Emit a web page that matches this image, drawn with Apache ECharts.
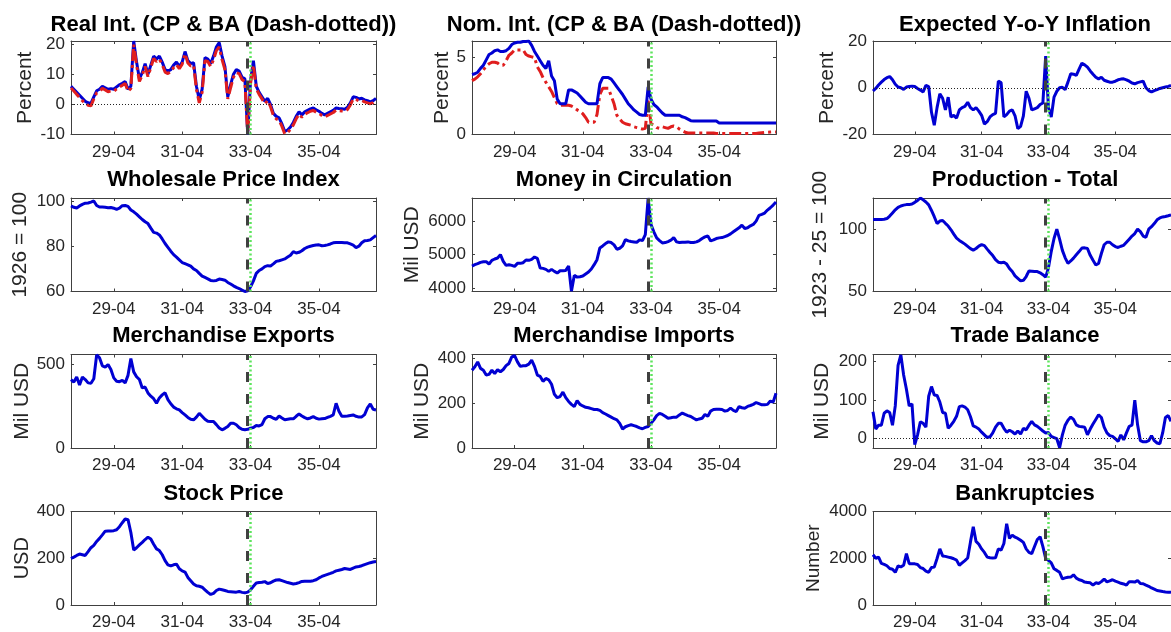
<!DOCTYPE html>
<html>
<head>
<meta charset="utf-8">
<script src="https://cdn.jsdelivr.net/npm/echarts@6/dist/echarts.min.js"></script>
<style>
  html, body { margin: 0; padding: 0; background: #fff; }
  #chart { width: 1171px; height: 632px; }
</style>
</head>
<body>
<div id="chart"></div>
<script>
// monthly categories 28-01 .. 36-12
const months = []
for (let y = 28; y <= 36; y++) {
  for (let m = 1; m <= 12; m++) months.push(y + "-" + String(m).padStart(2, "0"))
}
const xTickLabels = ["29-04", "31-04", "33-04", "35-04"]
const dashedMonth = "33-03"
const dottedMonth = "33-04"

// one row per year (1928 .. 1936)
const realCP = [
  6.0, 5.0, 4.0, 3.0, 2.0, 1.0, 0.5, 0.3, 2.5, 4.5, 5.0, 6.0,
  5.5, 5.0, 5.2, 5.0, 5.8, 6.5, 7.0, 7.6, 5.0, 6.0, 21.0, 14.0,
  8.5, 10.5, 13.5, 10.0, 13.0, 16.0, 15.0, 16.0, 14.0, 11.5, 11.0, 11.5,
  13.0, 14.0, 12.5, 14.0, 17.5, 14.5, 13.5, 13.8, 6.0, 1.5, 5.0, 15.5,
  15.0, 13.5, 16.0, 19.0, 20.5, 16.0, 12.5, 2.5, 6.5, 10.0, 11.5, 11.0,
  9.0, 8.5, -10.0, 8.0, 14.5, 6.0, 4.0, 2.5, 1.0, 2.0, 0.0, -3.0,
  -4.0, -4.5, -6.5, -9.0, -8.5, -7.5, -6.0, -4.0, -2.5, -3.5, -2.5, -2.0,
  -1.5, -1.2, -1.8, -2.3, -3.0, -3.5, -3.0, -2.5, -2.0, -1.2, -1.4, -1.5,
  -1.6, -1.0, 0.5, 2.5, 2.3, 1.8, 2.0, 1.5, 1.2, 0.8, 1.2, 2.0
]
const realBA = [
  5.4, 4.4, 3.3, 2.3, 1.2, 0.3, -0.3, -0.5, 1.8, 3.8, 4.3, 5.3,
  4.8, 4.2, 4.4, 4.3, 5.1, 5.8, 6.3, 6.9, 4.3, 5.3, 19.8, 13.0,
  7.6, 9.6, 12.6, 9.2, 12.2, 15.2, 14.2, 15.0, 13.2, 10.7, 10.2, 10.8,
  12.2, 13.2, 11.8, 13.3, 16.8, 13.7, 12.7, 13.0, 5.0, 0.5, 4.0, 14.5,
  14.2, 12.5, 14.8, 17.8, 19.0, 14.8, 11.5, 1.8, 5.5, 9.0, 10.5, 10.2,
  8.2, 7.5, -10.0, 7.0, 13.0, 5.2, 3.3, 1.8, 0.2, 1.3, -0.8, -3.7,
  -4.8, -5.3, -7.3, -9.8, -9.3, -8.3, -6.8, -4.8, -3.3, -4.3, -3.3, -2.8,
  -2.3, -2.0, -2.6, -3.0, -3.7, -4.2, -3.7, -3.2, -2.7, -1.9, -2.1, -2.2,
  -2.3, -1.7, -0.2, 1.8, 1.6, 1.1, 1.3, 0.8, 0.5, 0.2, 0.6, 1.5
]
const nomCP = [
  3.9, 3.95, 4.05, 4.3, 4.5, 4.85, 5.2, 5.3, 5.45, 5.5, 5.4, 5.4,
  5.45, 5.6, 5.85, 5.95, 6.0, 6.0, 6.05, 6.05, 6.08, 5.8, 5.4, 5.1,
  4.8, 4.5, 4.3, 4.8, 3.8, 3.5, 2.3, 2.0, 2.0, 2.0, 2.9, 2.9,
  2.8, 2.7, 2.5, 2.3, 2.1, 2.0, 2.0, 2.0, 2.0, 3.3, 3.7, 3.7,
  3.7, 3.6, 3.35, 3.1, 2.85, 2.6, 2.3, 2.0, 1.8, 1.6, 1.45, 1.3,
  1.25, 1.25, 3.1, 2.3, 1.95, 1.8, 1.6, 1.4, 1.25, 1.25, 1.25, 1.25,
  1.25, 1.25, 1.15, 1.1, 1.0, 0.9, 0.88, 0.88, 0.88, 0.88, 0.88, 0.88,
  0.88, 0.88, 0.88, 0.75, 0.75, 0.75, 0.75, 0.75, 0.75, 0.75, 0.75, 0.75,
  0.75, 0.75, 0.75, 0.75, 0.75, 0.75, 0.75, 0.75, 0.75, 0.75, 0.75, 0.75
]
const nomBA = [
  3.5, 3.6, 3.75, 3.95, 4.2, 4.45, 4.6, 4.7, 4.7, 4.65, 4.5, 4.5,
  4.8, 5.15, 5.3, 5.5, 5.5, 5.5, 5.5, 5.2, 5.1, 5.05, 5.0, 4.4,
  4.1, 3.7, 3.4, 3.1, 2.8, 2.4, 2.0, 1.9, 1.9, 1.9, 1.9, 1.85,
  1.75, 1.6, 1.5, 1.35, 1.1, 0.8, 0.8, 0.8, 1.3, 2.6, 3.0, 3.0,
  3.0, 2.5, 2.0, 1.25, 1.0, 0.8, 0.7, 0.65, 0.6, 0.5, 0.45, 0.4,
  0.35, 0.4, 2.2, 0.7, 0.6, 0.45, 0.4, 0.5, 0.45, 0.4, 0.5, 0.55,
  0.5, 0.35, 0.25, 0.15, 0.1, 0.1, 0.1, 0.1, 0.1, 0.1, 0.1, 0.1,
  0.1, 0.1, 0.06, 0.06, 0.06, 0.06, 0.06, 0.06, 0.06, 0.06, 0.06, 0.06,
  0.06, 0.06, 0.06, 0.06, 0.06, 0.1, 0.12, 0.14, 0.15, 0.16, 0.17, 0.17
]
const expInfl = [
  -1.4, -0.3, 1.2, 2.4, 3.5, 4.3, 4.8, 3.4, 1.5, 0.3, 0.0, -0.7,
  0.3, 0.5, 0.7, 0.5, -0.3, -1.0, -1.8, 1.0, 0.5, -10.5, -16.0, -8.5,
  -2.6, -4.5, -9.5, -4.0, -12.5, -11.8, -13.0, -9.5, -8.5, -8.0, -6.2, -8.5,
  -9.5, -8.5, -10.0, -11.8, -15.5, -14.5, -12.5, -11.5, -11.0, 2.8, 2.2, -12.5,
  -11.5, -10.0, -9.5, -12.0, -17.5, -16.5, -12.0, -1.5, -4.5, -9.5, -9.0, -8.5,
  -7.2, -6.5, 13.5, -8.5, -12.5, -4.0, -1.5, 0.0, 0.2, -0.8, 2.4, 6.0,
  5.8, 5.3, 8.0, 10.5, 9.8, 8.8, 7.2, 5.8, 4.5, 3.8, 4.5, 3.2,
  2.8, 2.4, 2.4, 2.8, 3.4, 3.7, 3.8, 3.4, 2.8, 2.0, 1.7, 2.2,
  2.5, 2.8, 0.0, -1.2, -1.8, -1.2, -0.8, -0.3, 0.0, 0.3, 0.6, 1.0
]
const wpi = [
  97.8, 97.2, 96.9, 97.8, 98.5, 99.0, 99.1, 99.5, 100.0, 98.0, 97.3, 97.3,
  97.2, 97.0, 97.1, 96.8, 96.3, 96.8, 97.9, 98.0, 97.6, 96.0, 95.2, 94.2,
  93.0, 91.8, 90.8, 90.0, 88.0, 86.1, 85.8, 85.0, 83.2, 81.2, 79.5, 77.8,
  76.3, 75.2, 74.0, 72.8, 72.3, 71.8, 71.2, 70.0, 69.3, 68.0, 66.8, 66.2,
  65.6, 64.9, 64.7, 64.9, 65.5, 65.3, 65.0, 64.0, 63.3, 62.5, 61.8, 61.3,
  60.6, 60.0, 60.3, 62.0, 64.7, 68.0, 69.3, 70.0, 71.0, 71.4, 71.3, 72.2,
  73.3, 73.6, 74.0, 74.4, 75.2, 76.0, 77.6, 77.0, 77.3, 78.0, 79.0, 79.6,
  80.0, 80.3, 80.5, 80.6, 80.2, 80.3, 80.6, 81.0, 81.5, 81.6, 81.6, 81.6,
  81.5, 81.5, 81.0, 80.5, 79.4, 80.0, 81.5, 82.4, 82.5, 82.8, 83.8, 84.7
]
const money = [
  4660, 4700, 4730, 4770, 4790, 4790, 4720, 4830, 4870, 4900, 5000, 4800,
  4680, 4700, 4680, 4650, 4740, 4740, 4760, 4840, 4830, 4860, 4930, 4890,
  4600, 4590, 4560, 4500, 4560, 4500, 4450, 4520, 4520, 4530, 4660, 3910,
  4380, 4330, 4340, 4360, 4420, 4480, 4570, 4700, 4850, 5200, 5260, 5330,
  5380, 5360, 5290, 5160, 5190, 5260, 5450, 5410, 5390, 5380, 5370, 5440,
  5420, 5600, 6690, 5900, 5680, 5500, 5420, 5350, 5360, 5390, 5430, 5510,
  5380, 5360, 5370, 5370, 5380, 5360, 5360, 5380, 5420, 5480, 5530, 5560,
  5410, 5440, 5480, 5500, 5510, 5540, 5570, 5620, 5680, 5740, 5800, 5880,
  5780, 5800, 5860, 5900, 6000, 6170, 6200, 6240, 6330, 6400, 6480, 6570
]
const production = [
  107.7, 107.7, 107.7, 107.8, 108.0, 108.5, 110.5, 113.0, 115.5, 117.5, 118.6, 119.3,
  119.7, 119.7, 120.2, 121.5, 123.0, 125.0, 123.5, 121.8, 119.5, 115.0, 110.0, 104.5,
  106.5, 107.0, 104.7, 102.5, 99.5, 96.0, 92.8, 91.0, 89.5, 88.0, 86.2, 84.4,
  83.2, 84.5, 86.4, 87.6, 86.8, 84.0, 81.3, 78.8, 75.5, 73.5, 73.1, 73.5,
  72.0, 68.5, 66.0, 62.5, 60.5, 58.5, 59.0, 62.0, 66.5, 66.3, 66.0, 66.0,
  65.0, 63.5, 61.5, 69.0, 82.0, 92.5, 100.0, 92.0, 83.0, 77.0, 72.6, 74.5,
  76.8, 79.5, 82.0, 84.8, 85.0, 84.5, 79.0, 75.0, 71.3, 72.5, 80.5, 87.5,
  89.5, 89.5, 87.5, 86.0, 85.3, 86.3, 87.0, 89.5, 92.0, 94.5, 96.5, 100.0,
  98.0, 94.5, 93.5, 100.0, 102.0, 104.5, 107.5, 109.0, 109.8, 110.2, 110.8, 111.5
]
const exportsUSD = [
  410, 395, 425, 378, 425, 410, 390, 388, 415, 558, 540, 492,
  485, 500, 470, 420, 400, 397, 405, 390, 435, 536, 456, 427,
  410, 360, 365, 330, 310, 295, 268, 300, 318, 331, 290, 265,
  245, 235, 228, 212, 198, 183, 172, 169, 185, 208, 190, 172,
  160, 159, 159, 140, 120, 109, 118, 129, 148, 148, 139, 122,
  112, 109, 112, 119, 123, 135, 132, 140, 175, 188, 188, 178,
  172, 192, 180, 169, 172, 175, 175, 190, 204, 192, 182, 175,
  180, 188, 178, 173, 175, 176, 183, 190, 198, 268, 220, 190,
  190, 192, 195, 198, 190, 185, 186, 200, 240, 264, 232, 228
]
const importsUSD = [
  348, 363, 385, 356, 348, 326, 329, 348, 333, 350, 341, 351,
  368, 378, 407, 413, 385, 365, 368, 368, 375, 393, 365, 326,
  320, 298, 311, 305, 285, 240, 225, 230, 250, 225, 208, 195,
  185, 212, 195, 188, 182, 180, 176, 172, 172, 168, 158, 152,
  145, 138, 131, 126, 110, 85, 95, 100, 104, 100, 96, 90,
  86, 92, 96, 110, 126, 145, 155, 150, 142, 133, 135, 138,
  138, 148, 156, 150, 145, 141, 133, 126, 130, 133, 150, 142,
  165, 172, 173, 173, 172, 165, 168, 178, 168, 163, 185, 180,
  178, 186, 190, 195, 203, 198, 193, 193, 195, 210, 205, 245
]
const tradeBal = [
  70, 25, 35, 35, 66, 72, 68, 35, 85, 190, 217, 165,
  128, 85, 90, -15, 10, 44, 40, 30, 110, 135, 113, 112,
  95, 68, 66, 27, 35, 45, 58, 83, 85, 82, 75, 57,
  33, 30, 25, 17, 10, 3, 5, 15, 30, 40, 40, 27,
  17, 22, 18, 12, 20, 12, 27, 23, 35, 45, 36, 32,
  26, 20, 15, 16, 6, 3, 0, -23, 10, 35, 48, 56,
  50, 36, 32, 31, 30, 10, 25, 38, 50, 62, 55, 30,
  15, 8, 6, 0, -7, 10, -3, 15, 32, 35, 100, 36,
  -5, -8, -8, -5, 8, -5, -11, -13, 15, 55, 60, 45
]
const stock = [
  199, 205, 212, 218, 215, 212, 228, 245, 255, 272, 285, 300,
  316, 317, 317, 318, 322, 335, 352, 368, 365, 310, 235, 245,
  257, 268, 280, 290, 282, 260, 240, 233, 215, 190, 172, 167,
  172, 175, 155, 146, 141, 118, 104, 90, 82, 80, 76, 65,
  54, 45, 50, 62, 68, 65, 62, 58, 57, 56, 55, 58,
  54, 52, 55, 65, 80, 94, 96, 97, 100, 92, 95, 102,
  107, 108, 104, 100, 96, 93, 90, 92, 96, 101, 102, 102,
  102, 104, 108, 116, 122, 127, 131, 135, 140, 146, 149, 152,
  156, 154, 152, 158, 163, 165, 168, 173, 177, 181, 184, 186
]
const bankrupt = [
  2150, 2000, 2050, 1780, 1740, 1680, 1560, 1530, 1400, 1670, 1630, 1700,
  2200, 1770, 1770, 1760, 1730, 1600, 1560, 1450, 1400, 1600, 1620, 1990,
  2400, 2100, 2080, 2050, 2020, 1980, 1920, 1700, 1800, 1900, 2010, 2700,
  3350, 2720, 2600, 2400, 2250, 2050, 2020, 2010, 2020, 2400, 2350, 2630,
  3480, 2850, 2990, 2900, 2850, 2770, 2680, 2400, 2250, 2200, 2500, 2800,
  2920, 2500, 1990, 1910, 1800, 1550, 1480, 1400, 1120, 1160, 1190, 1195,
  1290, 1150, 1080, 1050, 980, 965, 950, 850, 950, 920, 1000, 1110,
  990, 1030, 1080, 1020, 980, 930, 900, 850, 1000, 990, 980, 1050,
  920, 910, 850, 800, 730, 680, 620, 600, 576, 560, 550, 540
]

const FONT = '"Liberation Sans", Arial, Helvetica, sans-serif'
const BLUE = "#0000d2"
const RED = "#e01e1e"
const AXIS = "#404040"
const TXT = "#262626"

// layout of the 4 x 3 panel grid (pixels)
const colLeft = [71, 472, 873]
const colWidth = [305, 304, 304]
const rowTop = [41, 198, 354.5, 511.5]
const titleOffset = [16.5, 18.5, 18.5, 17.5]
const boxH = 93.5

const panels = [
  { row: 0, col: 0, title: "Real Int. (CP & BA (Dash-dotted))", yName: "Percent", nameGap: 35,
    min: -10, max: 21, yTicks: [-10, 0, 10, 20], zero: true,
    lines: [{ data: realCP, color: BLUE }, { data: realBA, color: RED, dash: true }] },
  { row: 0, col: 1, title: "Nom. Int. (CP & BA (Dash-dotted))", yName: "Percent", nameGap: 19,
    min: 0, max: 6.08, yTicks: [0, 5],
    lines: [{ data: nomBA, color: RED, dash: true }, { data: nomCP, color: BLUE }] },
  { row: 0, col: 2, title: "Expected Y-o-Y Inflation", yName: "Percent", nameGap: 35,
    min: -20, max: 20, yTicks: [-20, 0, 20], zero: true,
    lines: [{ data: expInfl, color: BLUE }] },
  { row: 1, col: 0, title: "Wholesale Price Index", yName: "1926 = 100", nameGap: 40,
    min: 60, max: 101.3, yTicks: [60, 80, 100],
    lines: [{ data: wpi, color: BLUE }] },
  { row: 1, col: 1, title: "Money in Circulation", yName: "Mil USD", nameGap: 49,
    min: 3900, max: 6690, yTicks: [4000, 5000, 6000],
    lines: [{ data: money, color: BLUE }] },
  { row: 1, col: 2, title: "Production - Total", yName: "1923 - 25 = 100", nameGap: 42,
    min: 50, max: 125, yTicks: [50, 100],
    lines: [{ data: production, color: BLUE }] },
  { row: 2, col: 0, title: "Merchandise Exports", yName: "Mil USD", nameGap: 35,
    min: 0, max: 560, yTicks: [0, 500],
    lines: [{ data: exportsUSD, color: BLUE }] },
  { row: 2, col: 1, title: "Merchandise Imports", yName: "Mil USD", nameGap: 39,
    min: 0, max: 418, yTicks: [0, 200, 400],
    lines: [{ data: importsUSD, color: BLUE }] },
  { row: 2, col: 2, title: "Trade Balance", yName: "Mil USD", nameGap: 40,
    min: -24, max: 218, yTicks: [0, 100, 200], zero: true,
    lines: [{ data: tradeBal, color: BLUE }] },
  { row: 3, col: 0, title: "Stock Price", yName: "USD", nameGap: 38, nameSize: 20,
    min: 0, max: 400, yTicks: [0, 200, 400],
    lines: [{ data: stock, color: BLUE }] },
  { row: 3, col: 2, title: "Bankruptcies", yName: "Number", nameGap: 50, nameSize: 19,
    min: 0, max: 4000, yTicks: [0, 2000, 4000],
    lines: [{ data: bankrupt, color: BLUE }] }
]

const tickFn = function (idx, val) {
  return xTickLabels.indexOf(val) >= 0
}

const option = {
  backgroundColor: "#ffffff",
  animation: false,
  grid: [],
  xAxis: [],
  yAxis: [],
  series: [],
  graphic: []
}

panels.forEach(function (p, i) {
  const left = colLeft[p.col]
  const width = colWidth[p.col]
  const top = rowTop[p.row]
  option.grid.push({ left: left, top: top, width: width, height: boxH })

  const lineStyle = { color: AXIS, width: 1 }
  // bottom and top (mirror) x axes
  option.xAxis.push({
    type: "category", gridIndex: i, data: months, boundaryGap: false, position: "bottom",
    axisLine: { show: true, onZero: false, lineStyle: lineStyle },
    axisTick: { show: true, inside: true, length: 3, interval: tickFn, lineStyle: lineStyle },
    axisLabel: { show: true, interval: tickFn, margin: 9, fontSize: 17, color: TXT, fontFamily: FONT },
    splitLine: { show: false }
  })
  option.xAxis.push({
    type: "category", gridIndex: i, data: months, boundaryGap: false, position: "top",
    axisLine: { show: true, onZero: false, lineStyle: lineStyle },
    axisTick: { show: true, inside: true, length: 3, interval: tickFn, lineStyle: lineStyle },
    axisLabel: { show: false },
    splitLine: { show: false }
  })
  // left and right (mirror) y axes
  option.yAxis.push({
    type: "value", gridIndex: i, min: p.min, max: p.max, position: "left",
    name: p.yName, nameLocation: "middle", nameGap: p.nameGap,
    nameTextStyle: { fontSize: p.nameSize || 21, color: TXT, fontFamily: FONT },
    axisLine: { show: true, onZero: false, lineStyle: lineStyle },
    axisTick: { show: true, inside: true, length: 3, customValues: p.yTicks, lineStyle: lineStyle },
    axisLabel: {
      show: true, customValues: p.yTicks, margin: 6, fontSize: 17, color: TXT, fontFamily: FONT,
      formatter: function (v) { return String(v) }
    },
    splitLine: { show: false }
  })
  option.yAxis.push({
    type: "value", gridIndex: i, min: p.min, max: p.max, position: "right",
    axisLine: { show: true, onZero: false, lineStyle: lineStyle },
    axisTick: { show: true, inside: true, length: 3, customValues: p.yTicks, lineStyle: lineStyle },
    axisLabel: { show: false },
    splitLine: { show: false }
  })

  const xi = 2 * i
  const yi = 2 * i

  // dotted zero line
  if (p.zero) {
    option.series.push({
      type: "line", xAxisIndex: xi, yAxisIndex: yi, data: [], z: 1,
      markLine: {
        silent: true, symbol: ["none", "none"], label: { show: false }, animation: false,
        data: [{ yAxis: 0, lineStyle: { color: "#222", width: 1, type: [1, 2] } }]
      }
    })
  }

  p.lines.forEach(function (ln) {
    option.series.push({
      type: "line", xAxisIndex: xi, yAxisIndex: yi, data: ln.data,
      symbol: "none", showSymbol: false, z: 2,
      lineStyle: { color: ln.color, width: 3, type: ln.dash ? [12, 4, 3, 4] : "solid" }
    })
  })

  // vertical markers at 1933-03 (dashed) and 1933-04 (dotted)
  option.series.push({
    type: "line", xAxisIndex: xi, yAxisIndex: yi, data: [], z: 3,
    markLine: {
      silent: true, symbol: ["none", "none"], label: { show: false }, animation: false,
      data: [
        { xAxis: dashedMonth, lineStyle: { color: "#404040", width: 3, type: [10, 12] } },
        { xAxis: dottedMonth, lineStyle: { color: "#5ee45e", width: 2.5, type: [2, 2.5] } }
      ]
    }
  })

  // panel title
  option.graphic.push({
    type: "text", x: left + width / 2, y: top - titleOffset[p.row],
    style: {
      text: p.title, fill: "#000", font: "bold 22px " + FONT,
      align: "center", textAlign: "center", verticalAlign: "middle", textVerticalAlign: "middle"
    }
  })
})

const myChart = echarts.init(document.getElementById("chart"))
myChart.setOption(option)
</script>
</body>
</html>
